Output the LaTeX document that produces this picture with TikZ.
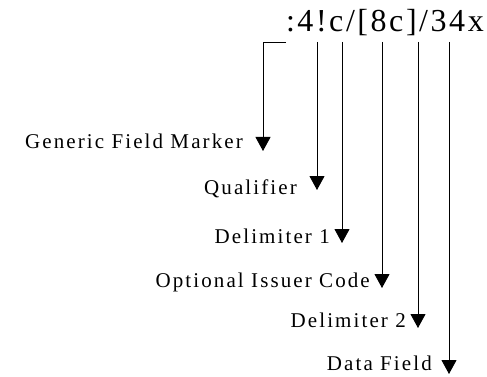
\documentclass[tikz,border=0pt]{standalone}
\usepackage{fontspec}
\setmainfont{Liberation Serif}
\newfontfamily\fieldfont[LetterSpace=10]{Liberation Serif}
\newfontfamily\codefont[LetterSpace=8]{Liberation Serif}
\usetikzlibrary{arrows.meta}

\begin{document}
\begin{tikzpicture}[x=1pt, y=-1pt,
    field/.style={anchor=base east, inner sep=0pt, font=\fontsize{21}{24}\fieldfont},
    pointer/.style={-{Triangle[width=15pt,length=14pt]}, line width=0.9pt}]
  \useasboundingbox (0,0) rectangle (487,377);

  \node[anchor=base east, inner sep=0pt, font=\fontsize{32}{36}\codefont] (code) at (484,32) {:4!c/[8c]/34x};

  \coordinate (cornertop) at (286,42);
  \coordinate (markertop) at (263,42);
  \coordinate (qualtop) at (317,42);
  \coordinate (delimatop) at (342,42);
  \coordinate (issuertop) at (382,42);
  \coordinate (delimbtop) at (418,42);
  \coordinate (datatop) at (449,42);

  \node[field] (marker) at (243,149) {Generic Field Marker};
  \node[field] (qual) at (297,194) {Qualifier};
  \node[field] (delima) at (330,243) {Delimiter 1};
  \node[field] (issuer) at (370,287) {Optional Issuer Code};
  \node[field] (delimb) at (406,327) {Delimiter 2};
  \node[field] (data) at (432,370) {Data Field};

  \draw[pointer] (cornertop) -- (markertop) -- ([yshift=-2pt]markertop |- marker.base);
  \draw[pointer] (qualtop) -- ([yshift=4pt]qualtop |- qual.base);
  \draw[pointer] (delimatop) -- (delimatop |- delima.base);
  \draw[pointer] (issuertop) -- ([yshift=-1pt]issuertop |- issuer.base);
  \draw[pointer] (delimbtop) -- ([yshift=-1pt]delimbtop |- delimb.base);
  \draw[pointer] (datatop) -- ([yshift=-4pt]datatop |- data.base);
\end{tikzpicture}
\end{document}
